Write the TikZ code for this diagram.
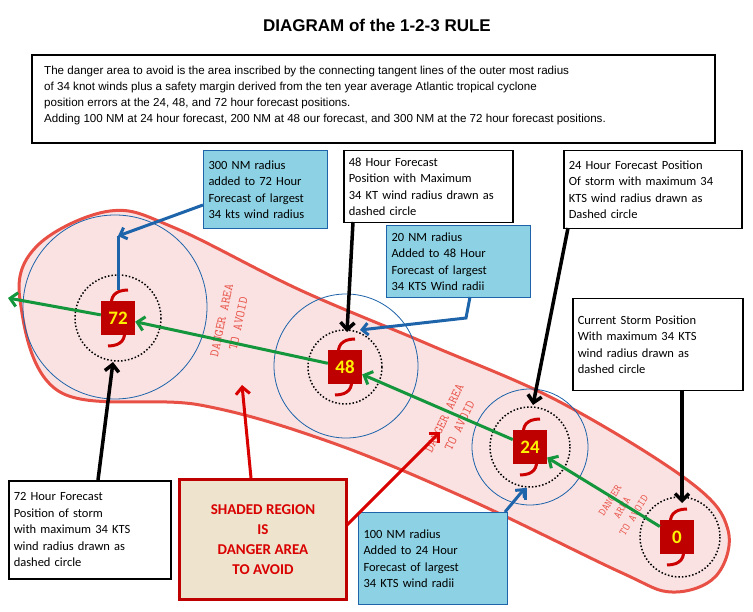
\documentclass[tikz,border=0pt]{standalone}
\usepackage{fontspec}
\setmainfont{Carlito}
\newfontfamily\arialfont{Liberation Sans}
\usepackage{xcolor}
\usetikzlibrary{arrows.meta}

\definecolor{boxblue}{RGB}{140,210,228}
\definecolor{hullfill}{RGB}{250,226,226}
\definecolor{hullred}{RGB}{232,80,70}
\definecolor{circblue}{RGB}{30,100,170}
\definecolor{arrgreen}{RGB}{20,150,60}
\definecolor{beige}{RGB}{238,228,205}

\tikzset{
	infobox/.style={draw=black,line width=1.5pt,fill=white,align=left,anchor=north west,inner sep=5pt,font=\fontsize{12.5}{16.5}\selectfont},
	cyanbox/.style={infobox,fill=boxblue,draw=circblue,line width=1pt},
	stormsq/.style={fill=red!75!black,minimum size=34pt,inner sep=0pt,text=yellow,font=\bfseries\fontsize{19}{19}\selectfont},
	danger/.style={text=hullred,align=center,font=\ttfamily\fontsize{13}{17}\selectfont},
	greenarr/.style={arrgreen,line width=3pt,-{Straight Barb[length=7pt,width=14pt]}},
	blackarr/.style={black,line width=3.5pt,-{Straight Barb[length=7pt,width=14pt]}},
	bluearr/.style={circblue,line width=3pt,-{Straight Barb[length=6pt,width=12pt]}},
	redarr/.style={red!85!black,line width=3pt,-{Straight Barb[length=7pt,width=14pt]}},
	swirl/.style={red!80!black,line width=3pt},
}

\begin{document}
\begin{tikzpicture}[x=1pt,y=-1pt]
	\useasboundingbox (0,0) rectangle (753,612);
	% title
	\node (title) at (377,25) {\arialfont\bfseries\fontsize{17}{20}\selectfont DIAGRAM of the 1-2-3 RULE};
	\draw[line width=1.5pt] (32,55) rectangle (715,143);
	\node[anchor=north west,align=left,inner sep=0pt,font=\arialfont\fontsize{11.6}{16}\selectfont] (intro) at (44,66)
		{The danger area to avoid is the area inscribed by the connecting tangent lines of the outer most radius\\
		of 34 knot winds plus a safety margin derived from the ten year average Atlantic tropical cyclone\\
		position errors at the 24, 48, and 72 hour forecast positions.\\
		Adding 100 NM at 24 hour forecast, 200 NM at 48 our forecast, and 300 NM at the 72 hour forecast positions.};

	% shaded danger area
	\draw[hullred,line width=3pt,fill=hullfill] plot[smooth cycle,tension=0.6] coordinates
		{(20,300) (38,245) (110,211) (175,228) (300,290) (430,345) (560,402) (690,482) (728,530)
		 (716,576) (672,592) (620,572) (470,500) (330,442) (200,405) (60,392)};

	% wind radii
	\draw[circblue,thick] (115,307) circle[radius=92];
	\draw[circblue,thick] (346,366) circle[radius=72];
	\draw[circblue,thick] (530,447) circle[radius=58];
	\foreach \cx/\cy/\r in {118/318/43, 345/367/37, 530/447/40, 680/537/40}
		\draw[black,line width=1.5pt,dotted] (\cx,\cy) circle[radius=\r];

	% danger labels
	\node[danger,rotate=78] (dA) at (230,322) {DANGER AREA\\TO AVOID};
	\node[danger,rotate=64] (dB) at (452,422) {DANGER AREA\\TO AVOID};
	\node[danger,rotate=58,font=\ttfamily\fontsize{11}{14}\selectfont] (dC) at (622,508) {DANGER\\AREA\\TO AVOID};

	% storm positions
	\foreach \nm/\cx/\cy/\lab in {s72/118/318/72, s48/345/367/48, s24/530/447/24, s0/677/537/0} {
		\draw[swirl] (\cx+10,\cy-28) .. controls (\cx-4,\cy-28) and (\cx-8,\cy-20) .. (\cx-6,\cy-12);
		\draw[swirl] (\cx-10,\cy+28) .. controls (\cx+4,\cy+28) and (\cx+8,\cy+20) .. (\cx+6,\cy+12);
		\node[stormsq] (\nm) at (\cx,\cy) {\lab};
	}

	% track
	\coordinate (exit) at (8,298);
	\draw[greenarr] (s0) -- (s24);
	\draw[greenarr] (s24) -- (s48);
	\draw[greenarr] (s48) -- (s72);
	\draw[greenarr] (s72) -- (exit);

	% boxes
	\node[cyanbox,text width=114pt,minimum height=78pt] (b300) at (203,150) {300 NM radius\\added to 72 Hour\\Forecast of largest\\34 kts wind radius};
	\node[infobox,text width=159pt,minimum height=72pt] (b48) at (343,150) {48 Hour Forecast\\Position with Maximum\\34 KT wind radius drawn as\\dashed circle};
	\node[infobox,text width=168pt,minimum height=78pt] (b24) at (563,150) {24 Hour Forecast Position\\Of storm with maximum 34\\KTS wind radius drawn as\\Dashed circle};
	\node[cyanbox,text width=134pt,minimum height=72pt] (b20) at (386,225) {20 NM radius\\Added to 48 Hour\\Forecast of largest\\34 KTS Wind radii};
	\node[infobox,text width=160pt,minimum height=92pt] (bnow) at (572,298) {Current Storm Position\\With maximum 34 KTS\\wind radius drawn as\\dashed circle};
	\node[infobox,text width=152pt,minimum height=98pt] (b72) at (8,480) {72 Hour Forecast\\Position of storm\\with maximum 34 KTS\\wind radius drawn as\\dashed circle};
	\node[draw=red!75!black,line width=3pt,fill=beige,minimum width=167pt,minimum height=120pt,anchor=north west,
		align=center,text=red!85!black,font=\bfseries\fontsize{15}{20}\selectfont] (shade) at (178,478)
		{SHADED REGION\\IS\\DANGER AREA\\TO AVOID};
	\node[cyanbox,text width=139pt,minimum height=92pt] (b100) at (358,512) {100 NM radius\\Added to 24 Hour\\Forecast of largest\\34 KTS wind radii};

	% pointers
	\coordinate (t72) at (118,236);
	\coordinate (t48) at (360,330);
	\coordinate (t24) at (525,488);
	\draw[circblue,line width=3pt] (t72) -- (118,290);
	\draw[circblue,line width=3pt] (t24) -- (525,500);
	\draw[bluearr] (203,205) -- (t72);
	\draw[bluearr] (470,297) -- (466,318) -- (t48);
	\draw[bluearr] (505,512) -- (t24);
	\draw[blackarr] (353,222) -- (347,332);
	\draw[blackarr] (568,228) -- (533,405);
	\draw[blackarr] (682,390) -- (682,503);
	\draw[blackarr] (98,480) -- (113,362);
	\draw[redarr] (251,478) -- (242,385);
	\draw[redarr] (347,525) -- (440,432);
\end{tikzpicture}
\end{document}
